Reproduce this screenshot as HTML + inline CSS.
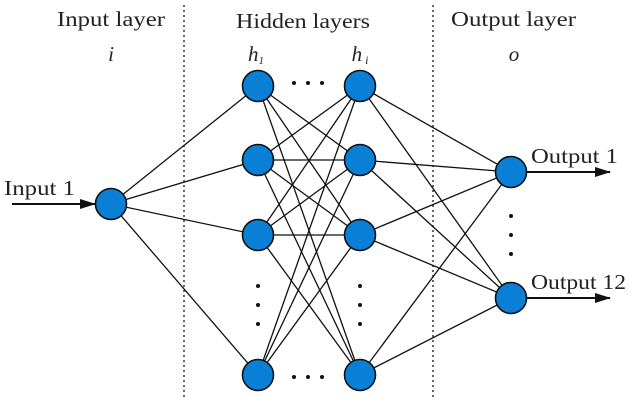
<!DOCTYPE html>
<html><head><style>
html,body{margin:0;padding:0;background:#fff;}
svg{display:block;}
text{font-family:"Liberation Serif",serif;fill:#222;}
</style></head><body>
<svg width="633" height="405" viewBox="0 0 633 405">
<defs>
<marker id="b" markerWidth="16" markerHeight="10" refX="15" refY="5" orient="auto" markerUnits="userSpaceOnUse"><path d="M0,0 L16,5 L0,10 Z" fill="#111"/></marker></defs>
<line x1="184" y1="5" x2="184" y2="400" stroke="#333" stroke-width="1.5" stroke-dasharray="2,3"/>
<line x1="433" y1="5" x2="433" y2="400" stroke="#333" stroke-width="1.5" stroke-dasharray="2,3"/>
<g font-size="21">
<text x="57" y="26" textLength="108" lengthAdjust="spacingAndGlyphs">Input layer</text>
<text x="236" y="28" textLength="134" lengthAdjust="spacingAndGlyphs">Hidden layers</text>
<text x="451" y="26" textLength="125" lengthAdjust="spacingAndGlyphs">Output layer</text>
<text x="111" y="61" text-anchor="middle" font-style="italic">i</text>
<text x="256" y="61" text-anchor="middle" font-style="italic">h<tspan font-size="11" dy="3">1</tspan></text>
<text x="360" y="61" text-anchor="middle" font-style="italic">h<tspan font-size="12" dy="3"> i</tspan></text>
<text x="514" y="61" text-anchor="middle" font-style="italic">o</text>
<text x="4" y="195" textLength="71" lengthAdjust="spacingAndGlyphs">Input 1</text>
<text x="531" y="163" textLength="87" lengthAdjust="spacingAndGlyphs">Output 1</text>
<text x="531" y="289" textLength="95" lengthAdjust="spacingAndGlyphs">Output 12</text>
</g>
<g stroke="#111" stroke-width="1.3" fill="none">
<line x1="111" y1="204" x2="258" y2="86"/>
<line x1="111" y1="204" x2="258" y2="160"/>
<line x1="111" y1="204" x2="258" y2="235"/>
<line x1="111" y1="204" x2="258" y2="375"/>
<line x1="258" y1="86" x2="360" y2="160"/><line x1="258" y1="86" x2="360" y2="235"/><line x1="258" y1="86" x2="360" y2="375"/>
<line x1="258" y1="160" x2="360" y2="86"/><line x1="258" y1="160" x2="360" y2="160"/><line x1="258" y1="160" x2="360" y2="235"/><line x1="258" y1="160" x2="360" y2="375"/>
<line x1="258" y1="235" x2="360" y2="86"/><line x1="258" y1="235" x2="360" y2="160"/><line x1="258" y1="235" x2="360" y2="235"/><line x1="258" y1="235" x2="360" y2="375"/>
<line x1="258" y1="375" x2="360" y2="86"/><line x1="258" y1="375" x2="360" y2="160"/><line x1="258" y1="375" x2="360" y2="235"/>
<line x1="360" y1="86" x2="511" y2="172"/><line x1="360" y1="86" x2="511" y2="298"/>
<line x1="360" y1="160" x2="511" y2="172"/><line x1="360" y1="160" x2="511" y2="298"/>
<line x1="360" y1="235" x2="511" y2="172"/><line x1="360" y1="235" x2="511" y2="298"/>
<line x1="360" y1="375" x2="511" y2="172"/><line x1="360" y1="375" x2="511" y2="298"/>
<line x1="12" y1="204" x2="95" y2="204" stroke-width="2" marker-end="url(#b)"/>
<line x1="527" y1="172" x2="610" y2="172" stroke-width="2" marker-end="url(#b)"/>
<line x1="527" y1="298" x2="610" y2="298" stroke-width="2" marker-end="url(#b)"/>
</g>
<g fill="#0a7fd6" stroke="#111" stroke-width="1.6">
<circle cx="111" cy="204" r="15.5"/>
<circle cx="258" cy="86" r="15.5"/><circle cx="258" cy="160" r="15.5"/><circle cx="258" cy="235" r="15.5"/><circle cx="258" cy="375" r="15.5"/>
<circle cx="360" cy="86" r="15.5"/><circle cx="360" cy="160" r="15.5"/><circle cx="360" cy="235" r="15.5"/><circle cx="360" cy="375" r="15.5"/>
<circle cx="511" cy="172" r="15.5"/><circle cx="511" cy="298" r="15.5"/>
</g>
<g fill="#111">
<circle cx="294" cy="83" r="2"/><circle cx="308" cy="83" r="2"/><circle cx="322" cy="83" r="2"/>
<circle cx="294" cy="377" r="2"/><circle cx="308" cy="377" r="2"/><circle cx="322" cy="377" r="2"/>
<circle cx="258" cy="286" r="2"/><circle cx="258" cy="305" r="2"/><circle cx="258" cy="324" r="2"/>
<circle cx="360" cy="286" r="2"/><circle cx="360" cy="305" r="2"/><circle cx="360" cy="324" r="2"/>
<circle cx="511" cy="216" r="2"/><circle cx="511" cy="235" r="2"/><circle cx="511" cy="254" r="2"/>
</g>
</svg>
</body></html>
